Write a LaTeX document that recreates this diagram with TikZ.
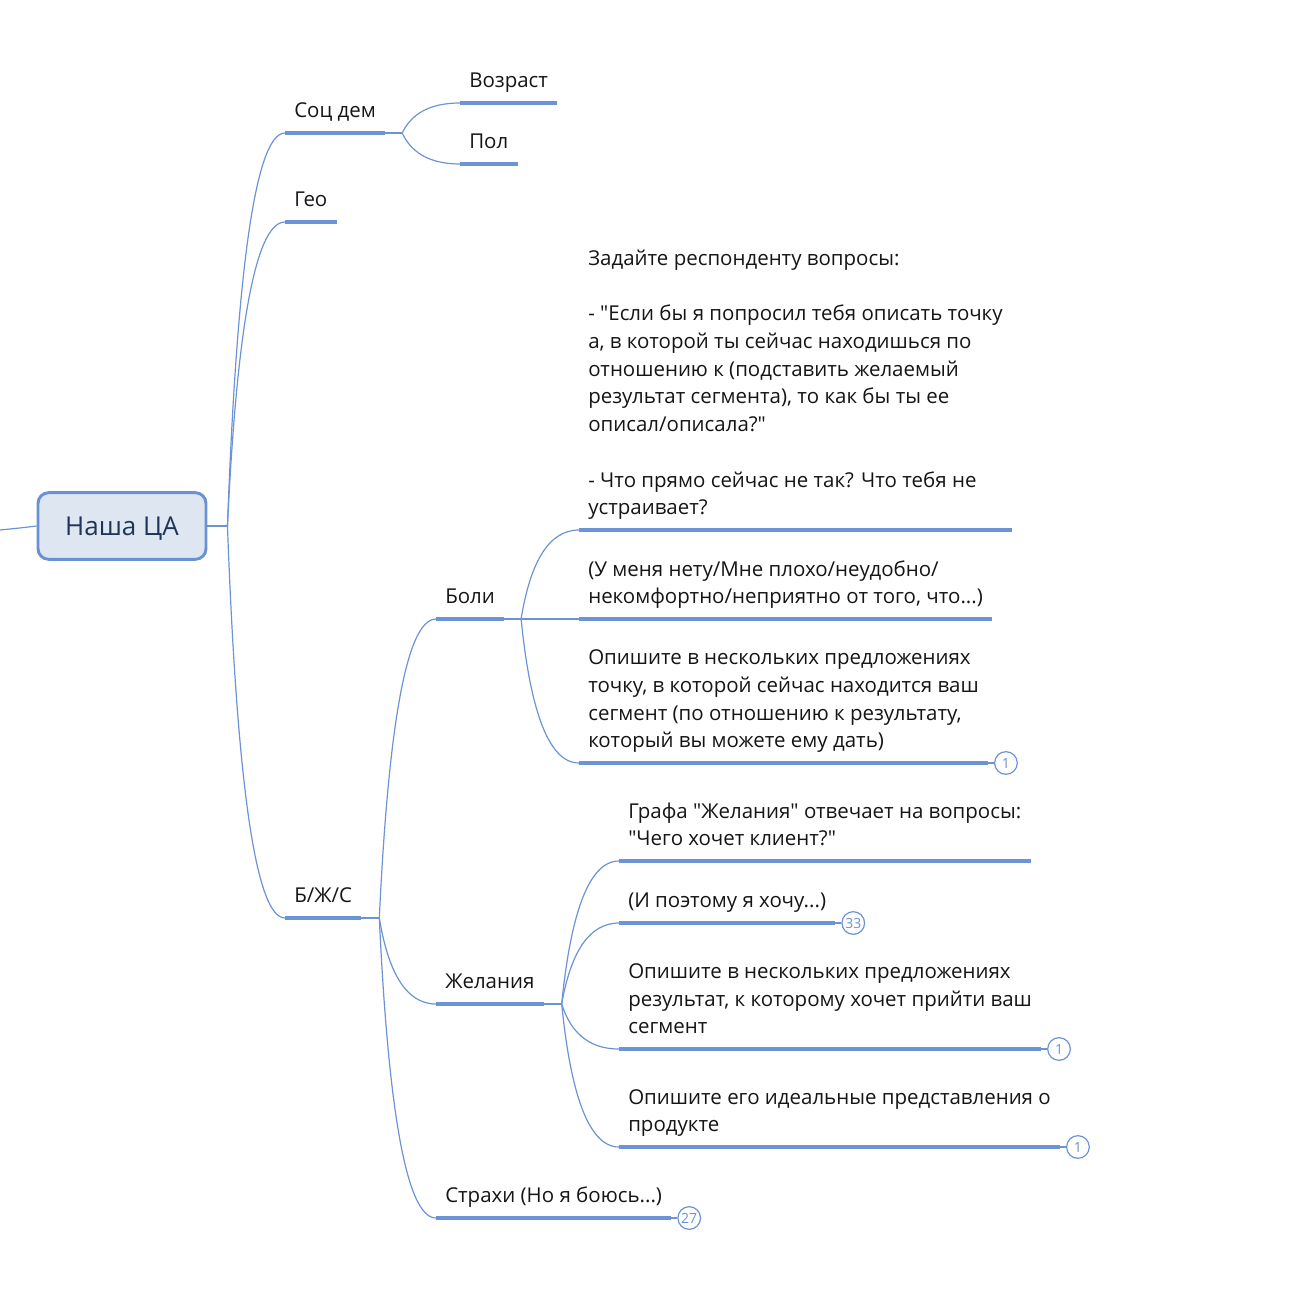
\documentclass[tikz,border=0pt]{standalone}
\usepackage{fontspec}
\setmainfont{Open Sans}[Ligatures=TeXOff]
\usetikzlibrary{positioning,calc}
\definecolor{lineblue}{HTML}{6B93D6}
\definecolor{rootfill}{HTML}{DEE6F2}
\definecolor{rootdraw}{HTML}{6A92D3}
\definecolor{roottext}{HTML}{1F3558}
\definecolor{txt}{HTML}{151515}
\newcommand{\branch}[2]{\draw[link] let \p1=(#1), \p2=(#2) in (\p1) .. controls ({\x1+0.15*(\x2-\x1)},{\y1+0.6*(\y2-\y1)}) and ({\x1+0.45*(\x2-\x1)},\y2) .. (\p2);}
\begin{document}
\begin{tikzpicture}[x=0.75pt, y=-0.75pt,
  link/.style={draw=lineblue, line width=0.9pt},
  uline/.style={draw=lineblue, line width=3pt},
  topic/.style={anchor=south west, align=left, inner xsep=6.75pt, inner ysep=5pt, text=txt,
    font={\fontsize{15.35}{20.8}\selectfont}, execute at end node=\strut},
  root/.style={draw=rootdraw, fill=rootfill, line width=2.2pt, rounded corners=8pt,
    minimum width=126pt, minimum height=50pt, text depth=0pt, text=roottext,
    font={\fontsize{19.5}{24}\selectfont}},
  badge/.style={circle, draw=lineblue, line width=0.9pt, fill=white, minimum size=17pt,
    inner sep=0pt, text=lineblue, font={\fontsize{10.5}{11}\selectfont}}]
\useasboundingbox (0,0) rectangle (1306,1308);
\node[root] (ca) at (122,526) {Наша ЦА};
\coordinate (in) at (0,530);
\node[topic] (soc) at (285,133) {Соц дем};
\node[topic] (geo) at (285,222) {Гео};
\node[topic] (bzs) at (285,918) {Б/Ж/С};
\node[topic] (age) at (460,103) {Возраст};
\node[topic] (sex) at (460,164) {Пол};
\node[topic] (boli) at (436,619) {Боли};
\node[topic] (zhel) at (436,1004) {Желания};
\node[topic] (strah) at (436,1218) {Страхи (Но я боюсь...)};
\node[topic] (b1) at (579,530) {Задайте респонденту вопросы:\\[20.8pt]
- "Если бы я попросил тебя описать точку\\
а, в которой ты сейчас находишься по\\
отношению к (подставить желаемый\\
результат сегмента), то как бы ты ее\\
описал/описала?"\\[20.8pt]
- Что прямо сейчас не так? Что тебя не\\
устраивает?};
\node[topic] (b2) at (579,619) {(У меня нету/Мне плохо/неудобно/\\
некомфортно/неприятно от того, что...)};
\node[topic] (b3) at (579,763) {Опишите в нескольких предложениях\\
точку, в которой сейчас находится ваш\\
сегмент (по отношению к результату,\\
который вы можете ему дать)};
\node[topic] (z1) at (619,861) {Графа "Желания" отвечает на вопросы:\\
"Чего хочет клиент?"};
\node[topic] (z2) at (619,923) {(И поэтому я хочу...)};
\node[topic] (z3) at (619,1049) {Опишите в нескольких предложениях\\
результат, к которому хочет прийти ваш\\
сегмент};
\node[topic] (z4) at (619,1147) {Опишите его идеальные представления о\\
продукте};
\draw[link] (in) .. controls (20,528) .. (ca.west);
\draw[link] (ca.east) -- ++(20,0) coordinate (caj);
\branch{caj}{soc.south west}
\branch{caj}{geo.south west}
\branch{caj}{bzs.south west}
\draw[link] (soc.south east) -- ++(17,0) coordinate (socj);
\branch{socj}{age.south west}
\branch{socj}{sex.south west}
\draw[link] (bzs.south east) -- ++(18,0) coordinate (bzsj);
\branch{bzsj}{boli.south west}
\branch{bzsj}{zhel.south west}
\branch{bzsj}{strah.south west}
\draw[link] (boli.south east) -- ++(17,0) coordinate (bolij);
\branch{bolij}{b1.south west}
\branch{bolij}{b2.south west}
\branch{bolij}{b3.south west}
\draw[link] (zhel.south east) -- ++(18,0) coordinate (zhelj);
\branch{zhelj}{z1.south west}
\branch{zhelj}{z2.south west}
\branch{zhelj}{z3.south west}
\branch{zhelj}{z4.south west}
\foreach \n in {soc,geo,bzs,age,sex,boli,zhel,strah,b1,b2,b3,z1,z2,z3,z4}
  \draw[uline] (\n.south west) -- (\n.south east);
\node[badge, right=4.5pt of b3.south east] (b3n) {1};
\node[badge, right=4.5pt of z2.south east] (z2n) {33};
\node[badge, right=4.5pt of z3.south east] (z3n) {1};
\node[badge, right=4.5pt of z4.south east] (z4n) {1};
\node[badge, right=4.5pt of strah.south east] (strahn) {27};
\draw[link] (b3.south east) -- (b3n);
\draw[link] (z2.south east) -- (z2n);
\draw[link] (z3.south east) -- (z3n);
\draw[link] (z4.south east) -- (z4n);
\draw[link] (strah.south east) -- (strahn);
\end{tikzpicture}
\end{document}
